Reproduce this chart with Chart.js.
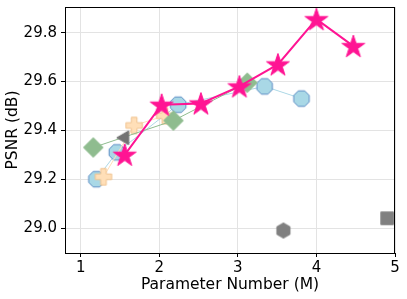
<!DOCTYPE html>
<html>
<head>
<meta charset="utf-8">
<script src="https://cdn.jsdelivr.net/npm/chart.js@4.4.0/dist/chart.umd.min.js"></script>
<style>
html, body { margin: 0; padding: 0; background: #fff; }
</style>
</head>
<body>
<canvas id="chart" width="407" height="299"></canvas>
<script>
// values
const xTicks = [1, 2, 3, 4, 5];
const yTicks = [29.0, 29.2, 29.4, 29.6, 29.8];

const starX = [1.56, 2.03, 2.53, 3.02, 3.51, 4.0, 4.47];
const starY = [29.30, 29.505, 29.51, 29.58, 29.67, 29.855, 29.745];
const octX = [1.2, 1.46, 2.24, 3.34, 3.81];
const octY = [29.2, 29.31, 29.505, 29.58, 29.53];
const plusX = [1.29, 1.68, 2.07];
const plusY = [29.21, 29.42, 29.46];
const diaX = [1.16, 2.18, 3.12];
const diaY = [29.33, 29.44, 29.595];
const triX = [1.56], triY = [29.37];
const hexX = [3.58], hexY = [28.99];
const sqX = [4.9], sqY = [29.04];

const pts = (xs, ys) => xs.map((x, i) => ({ x: x, y: ys[i] }));

// marker images
function marker(w, h, draw) {
  const c = document.createElement('canvas');
  c.width = w; c.height = h;
  const g = c.getContext('2d');
  g.translate(w / 2, h / 2);
  draw(g);
  return c;
}
function poly(g, n, R, rot) {
  g.beginPath();
  for (let i = 0; i < n; i++) {
    const a = rot + i * 2 * Math.PI / n;
    g.lineTo(R * Math.cos(a), R * Math.sin(a));
  }
  g.closePath();
}
function paint(g, fill, edge, lw) {
  g.fillStyle = fill; g.fill();
  if (edge) { g.strokeStyle = edge; g.lineWidth = lw || 1; g.stroke(); }
}

const starImg = marker(26, 26, g => {
  g.translate(0, 1);
  g.beginPath();
  for (let i = 0; i < 10; i++) {
    const a = -Math.PI / 2 + i * Math.PI / 5;
    const r = i % 2 ? 4.6 : 12;
    g.lineTo(r * Math.cos(a), r * Math.sin(a));
  }
  g.closePath();
  paint(g, '#ff1493', '#ff1493', 1);
});
const octImg = marker(20, 20, g => {
  poly(g, 8, 8.4, Math.PI / 8);
  paint(g, '#a9d8e6', '#5b8cc4', 1);
});
const diaImg = marker(22, 22, g => {
  poly(g, 4, 9.8, 0);
  paint(g, '#8fbc8f', '#8fbc8f', 1);
});
const plusImg = marker(20, 20, g => {
  const a = 8.2, b = 2.8;
  g.beginPath();
  g.moveTo(-b, -a); g.lineTo(b, -a); g.lineTo(b, -b); g.lineTo(a, -b);
  g.lineTo(a, b); g.lineTo(b, b); g.lineTo(b, a); g.lineTo(-b, a);
  g.lineTo(-b, b); g.lineTo(-a, b); g.lineTo(-a, -b); g.lineTo(-b, -b);
  g.closePath();
  paint(g, '#ffdfb8', '#f0c28e', 1);
});
const triImg = marker(18, 18, g => {
  poly(g, 3, 8, Math.PI);
  paint(g, '#737373', '#737373', 1);
});
const hexImg = marker(18, 18, g => {
  poly(g, 6, 7.6, -Math.PI / 2);
  paint(g, '#808080', '#808080', 1);
});
const sqImg = marker(16, 16, g => {
  g.beginPath(); g.rect(-6.3, -6.3, 12.6, 12.6);
  paint(g, '#808080', '#808080', 1);
});

// frame around the plot, like matplotlib spines
const frame = {
  id: 'frame',
  afterDraw(chart) {
    const a = chart.chartArea, ctx = chart.ctx;
    ctx.save();
    ctx.strokeStyle = '#000';
    ctx.lineWidth = 1;
    ctx.strokeRect(Math.round(a.left) + 0.5, Math.round(a.top) + 0.5,
      Math.round(a.right - a.left) - 1, Math.round(a.bottom - a.top));
    ctx.restore();
  }
};

const font = { family: 'DejaVu Sans', size: 15 };

new Chart(document.getElementById('chart'), {
  type: 'scatter',
  data: {
    datasets: [
      { data: pts(starX, starY), showLine: true, borderColor: '#ff1493', borderWidth: 2, pointStyle: starImg, pointRadius: 5 },
      { data: pts(sqX, sqY), pointStyle: sqImg, pointRadius: 5 },
      { data: pts(hexX, hexY), pointStyle: hexImg, pointRadius: 5 },
      { data: pts(triX, triY), pointStyle: triImg, pointRadius: 5 },
      { data: pts(diaX, diaY), showLine: true, borderColor: '#8fbc8f', borderWidth: 1, pointStyle: diaImg, pointRadius: 5 },
      { data: pts(plusX, plusY), showLine: true, borderColor: '#ffdfb8', borderWidth: 1, pointStyle: plusImg, pointRadius: 5 },
      { data: pts(octX, octY), showLine: true, borderColor: '#add8e6', borderWidth: 1, pointStyle: octImg, pointRadius: 5 }
    ]
  },
  options: {
    responsive: false,
    animation: false,
    layout: { padding: { top: 6, right: 12, left: 0, bottom: 0 } },
    plugins: { legend: { display: false }, tooltip: { enabled: false } },
    scales: {
      x: {
        type: 'linear', min: 0.8, max: 5.0,
        afterBuildTicks: s => { s.ticks = xTicks.map(v => ({ value: v })); },
        afterFit: s => { s.height = 46; s.paddingLeft = 0; s.paddingRight = 0; },
        grid: { color: '#e3e3e3', tickColor: '#000', tickLength: 4 },
        border: { display: false },
        ticks: { color: '#000', font: font, padding: 2, callback: v => String(v) },
        title: { display: true, text: 'Parameter Number (M)', color: '#000',
          font: { family: 'DejaVu Sans', size: 15.5 }, padding: { top: 0, bottom: 5 } }
      },
      y: {
        type: 'linear', min: 28.898, max: 29.905,
        afterBuildTicks: s => { s.ticks = yTicks.map(v => ({ value: v })); },
        afterFit: s => { s.width = 65; s.paddingTop = 0; s.paddingBottom = 0; },
        grid: { color: '#e3e3e3', tickColor: '#000', tickLength: 4 },
        border: { display: false },
        ticks: { color: '#000', font: font, padding: 4, callback: v => v.toFixed(1) },
        title: { display: true, text: 'PSNR (dB)', color: '#000',
          font: { family: 'DejaVu Sans', size: 15.5 }, padding: { top: 4, bottom: 0 } }
      }
    }
  },
  plugins: [frame]
});
</script>
</body>
</html>
